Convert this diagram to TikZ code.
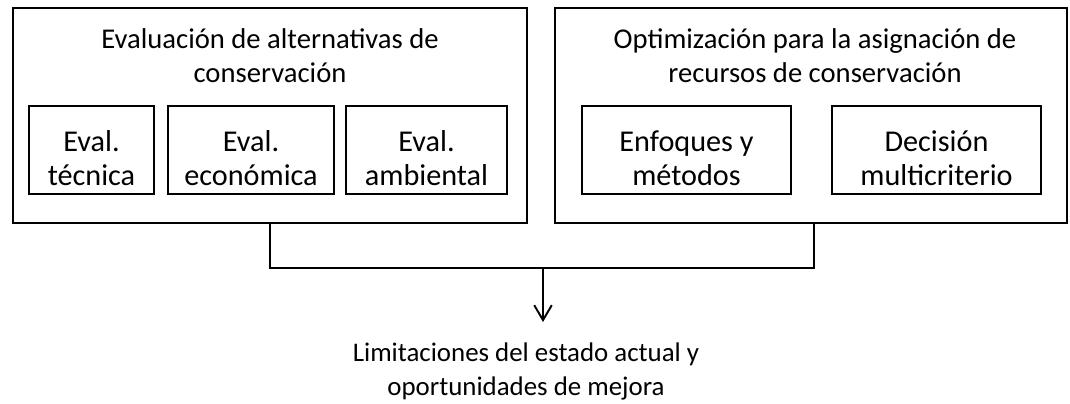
\documentclass[tikz,border=0pt]{standalone}
\usepackage{fontspec}
\setmainfont{Carlito}
\usetikzlibrary{arrows.meta}

\begin{document}
\begin{tikzpicture}[x=0.02cm,y=-0.02cm,line width=1.1pt,
    font=\fontsize{16.3}{19.3}\selectfont]

      \useasboundingbox (0,0) rectangle (1070,403);

      % outer boxes
      \begin{scope}[every node/.style={rectangle,draw,line width=1.25pt,minimum height=4.3cm}]
        \node[minimum width=10.28cm] (eval) at (270,115.5) {};
        \node[minimum width=10.24cm] (opt)  at (811,115.5) {};
      \end{scope}

      % titles
      \begin{scope}[every node/.style={align=center,inner sep=0pt}]
        \node (evalt) at (270,56) {Evaluación de alternativas de\\conservación};
        \node (optt)  at (815,56) {Optimización para la asignación de\\recursos de conservación};
        \node[anchor=north,font=\fontsize{15.3}{19.3}\selectfont] (lim) at (526,342)
          {Limitaciones del estado actual y\\oportunidades de mejora};
      \end{scope}

      % inner boxes
      \begin{scope}[every node/.style={rectangle,draw,align=center,minimum height=1.76cm,
          font=\fontsize{17.2}{19}\selectfont,text height=40pt,text depth=0pt}]
        \node[minimum width=2.5cm]  (tec) at (91.5,150)  {Eval.\\técnica};
        \node[minimum width=3.32cm] (eco) at (251,150)   {Eval.\\económica};
        \node[minimum width=3.22cm] (amb) at (426.5,150) {Eval.\\ambiental};
        \node[minimum width=4.18cm] (enf) at (686.5,150) {Enfoques y\\métodos};
        \node[minimum width=4.18cm] (dec) at (936.5,150) {Decisión\\multicriterio};
      \end{scope}

      \coordinate (m) at (543,268);
      \draw (eval.south) |- (m) -| ([xshift=0.06cm]opt.south);
      \draw[-{Straight Barb[length=8.5pt,width=10pt]},shorten >=0.4cm] (m) -- (m |- lim.north);

    \end{tikzpicture}
\end{document}
